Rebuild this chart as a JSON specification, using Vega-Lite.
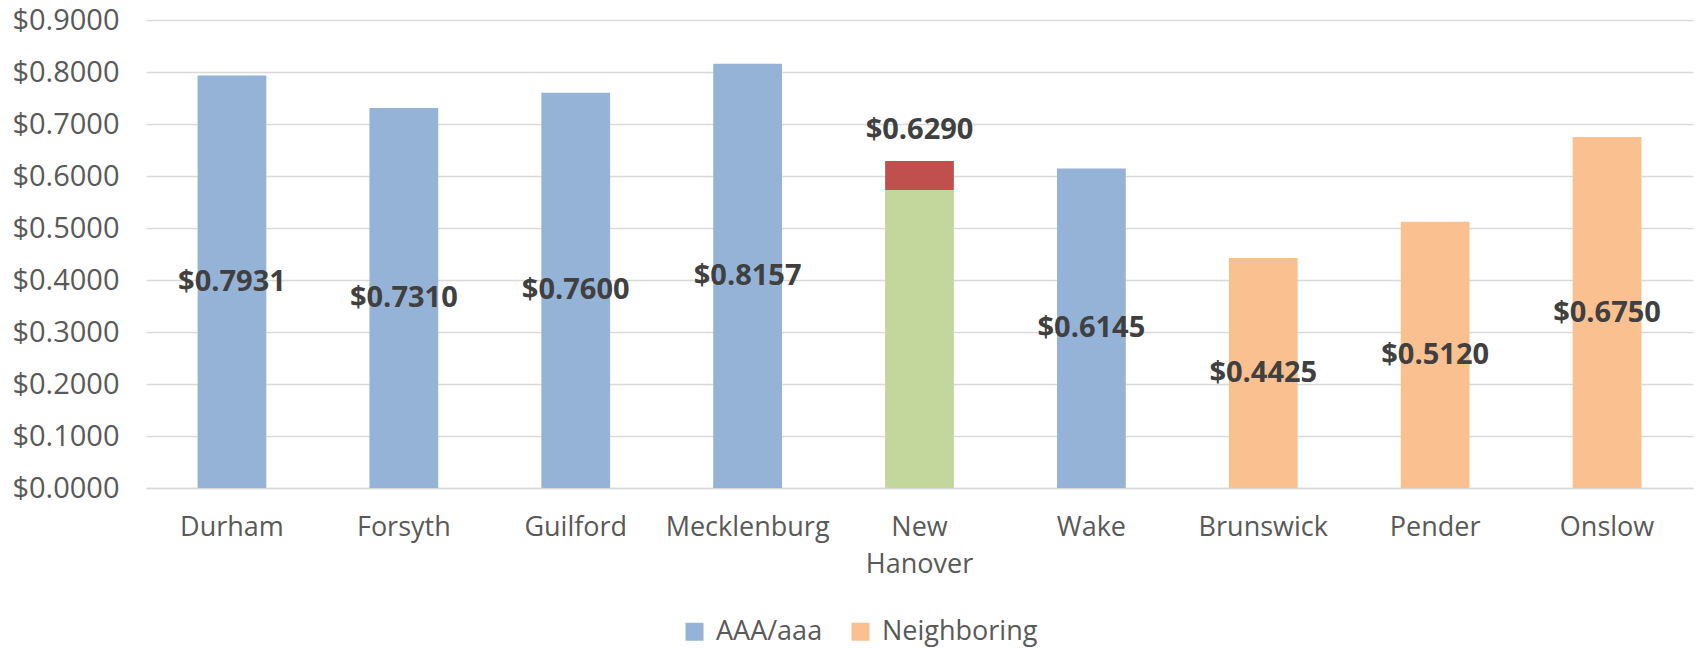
{
  "$schema": "https://vega.github.io/schema/vega-lite/v6.json",
  "width": 1547,
  "height": 468,
  "autosize": "none",
  "padding": {"left": 146, "top": 20, "right": 5, "bottom": 160},
  "background": "white",
  "config": {"view": {"stroke": null}, "font": "Open Sans"},
  "datasets": {
    "bars": [
      {"county": "Durham", "series": "AAA/aaa", "value": 0.7931},
      {"county": "Forsyth", "series": "AAA/aaa", "value": 0.7310},
      {"county": "Guilford", "series": "AAA/aaa", "value": 0.7600},
      {"county": "Mecklenburg", "series": "AAA/aaa", "value": 0.8157},
      {"county": "New Hanover", "series": "NH Base", "value": 0.5730},
      {"county": "New Hanover", "series": "NH Extra", "value": 0.0560},
      {"county": "Wake", "series": "AAA/aaa", "value": 0.6145},
      {"county": "Brunswick", "series": "Neighboring", "value": 0.4425},
      {"county": "Pender", "series": "Neighboring", "value": 0.5120},
      {"county": "Onslow", "series": "Neighboring", "value": 0.6750}
    ],
    "labels": [
      {"county": "Durham", "total": 0.7931, "inside": true},
      {"county": "Forsyth", "total": 0.7310, "inside": true},
      {"county": "Guilford", "total": 0.7600, "inside": true},
      {"county": "Mecklenburg", "total": 0.8157, "inside": true},
      {"county": "New Hanover", "total": 0.6290, "inside": false},
      {"county": "Wake", "total": 0.6145, "inside": true},
      {"county": "Brunswick", "total": 0.4425, "inside": true},
      {"county": "Pender", "total": 0.5120, "inside": true},
      {"county": "Onslow", "total": 0.6750, "inside": true}
    ]
  },
  "encoding": {
    "x": {
      "field": "county",
      "type": "nominal",
      "sort": ["Durham", "Forsyth", "Guilford", "Mecklenburg", "New Hanover", "Wake", "Brunswick", "Pender", "Onslow"],
      "scale": {"paddingInner": 0.6, "paddingOuter": 0.3},
      "axis": {
        "title": null,
        "labelAngle": 0,
        "labelFontSize": 27,
        "labelColor": "#595959",
        "labelPadding": 26,
        "labelLineHeight": 37,
        "labelExpr": "datum.label == 'New Hanover' ? ['New', 'Hanover'] : datum.label",
        "ticks": false,
        "domainColor": "#D9D9D9",
        "domainWidth": 1.5,
        "grid": false
      }
    }
  },
  "layer": [
    {
      "data": {"name": "bars"},
      "mark": {"type": "bar"},
      "encoding": {
        "y": {
          "field": "value",
          "type": "quantitative",
          "stack": "zero",
          "scale": {"domain": [0, 0.9]},
          "axis": {
            "title": null,
            "values": [0, 0.1, 0.2, 0.3, 0.4, 0.5, 0.6, 0.7, 0.8, 0.9],
            "format": "$.4f",
            "labelFontSize": 29,
            "labelColor": "#595959",
            "labelPadding": 27,
            "domain": false,
            "ticks": false,
            "gridColor": "#D9D9D9",
            "gridWidth": 1.5
          }
        },
        "color": {
          "field": "series",
          "type": "nominal",
          "scale": {
            "domain": ["AAA/aaa", "Neighboring", "NH Base", "NH Extra"],
            "range": ["#95B3D7", "#FAC090", "#C3D69B", "#C0504D"]
          },
          "legend": {
            "values": ["AAA/aaa", "Neighboring"],
            "title": null,
            "orient": "none",
            "legendX": 535,
            "legendY": 598,
            "direction": "horizontal",
            "symbolType": "square",
            "symbolSize": 324,
            "symbolStrokeWidth": 0,
            "labelFontSize": 27,
            "labelColor": "#595959",
            "labelOffset": 8,
            "columnPadding": 24
          }
        },
        "order": {"field": "series", "type": "nominal", "sort": "ascending"}
      }
    },
    {
      "data": {"name": "labels"},
      "transform": [
        {"filter": "datum.inside"},
        {"calculate": "datum.total / 2", "as": "mid"}
      ],
      "mark": {"type": "text", "fontSize": 29, "fontWeight": "bold", "color": "#404040", "baseline": "middle"},
      "encoding": {
        "y": {"field": "mid", "type": "quantitative"},
        "text": {"field": "total", "type": "quantitative", "format": "$.4f"}
      }
    },
    {
      "data": {"name": "labels"},
      "transform": [{"filter": "!datum.inside"}],
      "mark": {"type": "text", "fontSize": 29, "fontWeight": "bold", "color": "#404040", "baseline": "middle", "dy": -31},
      "encoding": {
        "y": {"field": "total", "type": "quantitative"},
        "text": {"field": "total", "type": "quantitative", "format": "$.4f"}
      }
    }
  ]
}
